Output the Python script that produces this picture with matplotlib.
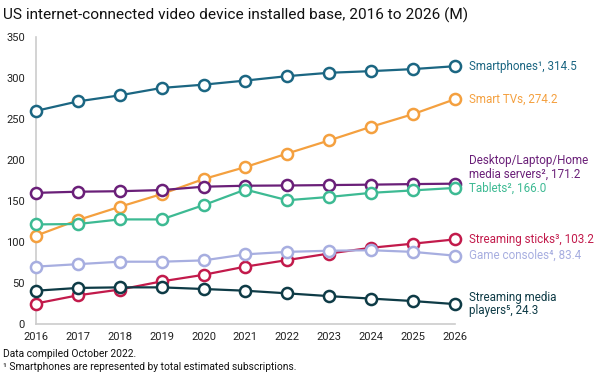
import numpy as np
import matplotlib
matplotlib.use("Agg")
import matplotlib.pyplot as plt

plt.rcParams['font.family'] = ['Roboto', 'DejaVu Sans']

years = list(range(2016, 2027))

smartphones = [260, 271.6, 279, 288, 292, 297, 302.4, 306.5, 308.5, 311, 314.5]
smart_tvs = [107.7, 126.8, 143, 158.5, 176.8, 191.5, 208, 224, 240.6, 256, 274.2]
desktop = [160, 161.4, 162, 163.4, 167.5, 168.7, 169, 169.5, 170, 170.7, 171.2]
tablets = [121.5, 122, 127.6, 127.6, 145, 164, 151, 155, 160, 163, 166.0]
sticks = [25, 35, 42, 52, 60, 70, 78, 86, 93, 98, 103.2]
consoles = [70, 73, 76, 76, 77.6, 85, 88, 89.4, 90, 88, 83.4]
players = [40.6, 44, 44.7, 44.7, 42.7, 40.6, 37.4, 34, 31, 28, 24.3]

series = [
    (smartphones, "#1b6682", "Smartphones\u00b9, 314.5", 0),
    (smart_tvs, "#f4a03f", "Smart TVs, 274.2", 0),
    (desktop, "#6a1f78", "Desktop/Laptop/Home\nmedia servers\u00b2, 171.2", 11.5),
    (tablets, "#3dba93", "Tablets\u00b2, 166.0", 0),
    (sticks, "#c21a4b", "Streaming sticks\u00b3, 103.2", 0),
    (consoles, "#a7aee0", "Game consoles\u2074, 83.4", 0),
    (players, "#0e3b46", "Streaming media\nplayers\u2075, 24.3", 0),
]

fig = plt.figure(figsize=(6, 3.75), dpi=100)
ax = fig.add_axes([0.06, 0.136, 0.698, 0.765])

for vals, col, lab, dy in series:
    ax.plot(years, vals, color=col, lw=1.6, marker='o', ms=8,
            mfc='white', mec=col, mew=1.8, clip_on=False, zorder=3)
    ax.annotate(lab, xy=(years[-1], vals[-1]), xytext=(10, dy),
                textcoords='offset points', va='center', ha='left',
                fontsize=8.4, color=col, linespacing=1.05)

ax.set_xlim(2016, 2026)
ax.set_ylim(0, 350)
ax.set_xticks(years)
ax.set_yticks(range(0, 351, 50))
ax.tick_params(length=0, labelsize=8, colors='#222222', pad=6)
ax.tick_params(axis='y', pad=8)
for s in ['top', 'right']:
    ax.spines[s].set_visible(False)
for s in ['left', 'bottom']:
    ax.spines[s].set_color('#cccccc')
    ax.spines[s].set_linewidth(1.2)

fig.text(0.005, 0.958, "US internet-connected video device installed base, 2016 to 2026 (M)",
         fontsize=11.1, color='#111111', va='center', ha='left')
fig.text(0.005, 0.056, "Data compiled October 2022.", fontsize=7.4,
         color='#111111', va='center')
fig.text(0.005, 0.021, "\u00b9 Smartphones are represented by total estimated subscriptions.",
         fontsize=7.4, color='#111111', va='center')

fig.savefig("out.png", dpi=100)
